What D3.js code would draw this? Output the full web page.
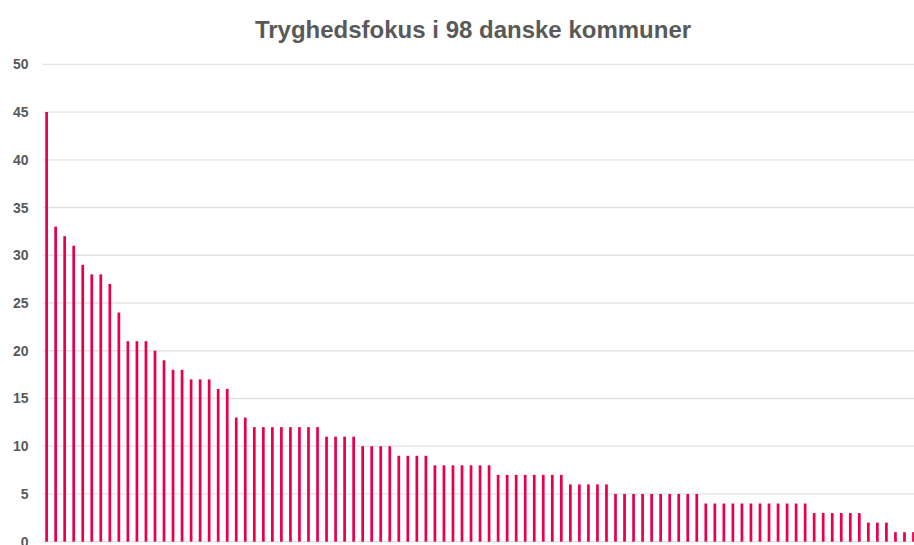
<!DOCTYPE html>
<html>
<head>
<meta charset="utf-8">
<script src="https://cdn.jsdelivr.net/npm/d3@7"></script>
<style>
  html, body { margin: 0; padding: 0; background: #ffffff; overflow: hidden; }
  svg { display: block; font-family: "Liberation Sans", Arial, sans-serif; }
</style>
</head>
<body>
<svg id="chart" width="914" height="545"></svg>
<script>
const title = "Tryghedsfokus i 98 danske kommuner";
const values = [
  45, 33, 32, 31, 29, 28, 28, 27, 24, 21, 21, 21, 20, 19, 18, 18, 17, 17, 17, 16, 16, 13, 13,
  12, 12, 12, 12, 12, 12, 12, 12,
  11, 11, 11, 11,
  10, 10, 10, 10,
  9, 9, 9, 9,
  8, 8, 8, 8, 8, 8, 8,
  7, 7, 7, 7, 7, 7, 7, 7,
  6, 6, 6, 6, 6,
  5, 5, 5, 5, 5, 5, 5, 5, 5, 5,
  4, 4, 4, 4, 4, 4, 4, 4, 4, 4, 4, 4,
  3, 3, 3, 3, 3, 3,
  2, 2, 2,
  1, 1, 1, 1
];
const categories = values.map((v, i) => "Kommune " + (i + 1));
const yTicks = [0, 5, 10, 15, 20, 25, 30, 35, 40, 45, 50];

const svg = d3.select("#chart");
const W = 914, H = 545;

const x = d3.scaleBand()
  .domain(categories)
  .range([42.1, 42.1 + 98 * 9.03])
  .paddingInner(0.7)
  .paddingOuter(0.35);

const y = d3.scaleLinear().domain([0, 50]).range([541.7, 64.3]);

// gridlines
svg.append("g")
  .selectAll("line")
  .data(yTicks)
  .join("line")
  .attr("x1", 42.7)
  .attr("x2", W)
  .attr("y1", d => y(d))
  .attr("y2", d => y(d))
  .attr("stroke", "#e3e3e3")
  .attr("stroke-width", 1.3);

// y axis labels
const yAxis = d3.axisLeft(y).tickValues(yTicks).tickSize(0).tickPadding(0);
const gy = svg.append("g").attr("transform", "translate(28.5,0)").call(yAxis);
gy.select(".domain").remove();
gy.selectAll("text")
  .attr("fill", "#595959")
  .attr("font-size", 14)
  .attr("font-weight", "bold")
  .attr("font-family", "'Liberation Sans', Arial, sans-serif");

// bars
svg.append("g")
  .selectAll("rect")
  .data(values)
  .join("rect")
  .attr("x", (d, i) => x(categories[i]))
  .attr("width", x.bandwidth())
  .attr("y", d => y(d))
  .attr("height", d => y(0) - y(d))
  .attr("fill", "#e8004c");

// title
svg.append("text")
  .attr("x", 473)
  .attr("y", 38)
  .attr("text-anchor", "middle")
  .attr("font-size", 24)
  .attr("font-weight", "bold")
  .attr("fill", "#595959")
  .text(title);
</script>
</body>
</html>
